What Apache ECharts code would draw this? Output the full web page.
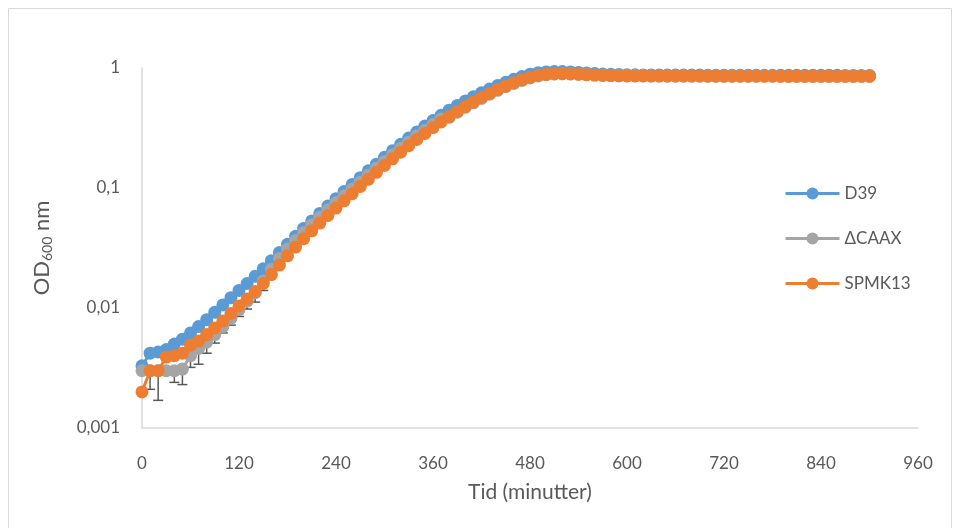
<!DOCTYPE html>
<html>
<head>
<meta charset="utf-8">
<script src="https://cdn.jsdelivr.net/npm/echarts@6/dist/echarts.min.js"></script>
<style>
  html, body { margin: 0; padding: 0; background: #fff; }
  #main { width: 960px; height: 528px; }
</style>
</head>
<body>
<div id="main"></div>
<script>
// time points (minutes)
var times = [
  0, 10, 20, 30, 40, 50, 60, 70, 80, 90,
  100, 110, 120, 130, 140, 150, 160, 170, 180, 190,
  200, 210, 220, 230, 240, 250, 260, 270, 280, 290,
  300, 310, 320, 330, 340, 350, 360, 370, 380, 390,
  400, 410, 420, 430, 440, 450, 460, 470, 480, 490,
  500, 510, 520, 530, 540, 550, 560, 570, 580, 590,
  600, 610, 620, 630, 640, 650, 660, 670, 680, 690,
  700, 710, 720, 730, 740, 750, 760, 770, 780, 790,
  800, 810, 820, 830, 840, 850, 860, 870, 880, 890,
  900
];

var d39 = [
  0.0033, 0.0042, 0.0043, 0.0045, 0.0050, 0.0055, 0.0062, 0.0070, 0.0080, 0.0092,
  0.0106, 0.0122, 0.0140, 0.0160, 0.0184, 0.0212, 0.0248, 0.0290, 0.0340, 0.0396,
  0.0460, 0.0532, 0.0614, 0.0708, 0.0815, 0.0935, 0.107, 0.122, 0.139, 0.158,
  0.180, 0.204, 0.231, 0.261, 0.293, 0.328, 0.365, 0.404, 0.445, 0.487,
  0.531, 0.576, 0.622, 0.668, 0.714, 0.760, 0.805, 0.848, 0.885, 0.912,
  0.928, 0.934, 0.933, 0.927, 0.918, 0.908, 0.899, 0.891, 0.885, 0.881,
  0.878, 0.877, 0.876, 0.875, 0.875, 0.874, 0.874, 0.873, 0.873, 0.873,
  0.872, 0.872, 0.872, 0.871, 0.871, 0.871, 0.871, 0.870, 0.870, 0.870,
  0.870, 0.870, 0.869, 0.869, 0.869, 0.869, 0.869, 0.868, 0.868, 0.868,
  0.868
];

var caax = [
  0.0030, 0.0030, 0.0030, 0.0030, 0.0030, 0.0031, 0.0040, 0.0046, 0.0052, 0.0060,
  0.0070, 0.0082, 0.0097, 0.0114, 0.0134, 0.0168, 0.0210, 0.0258, 0.0310, 0.0365,
  0.0425, 0.0494, 0.0570, 0.0658, 0.0757, 0.0860, 0.0980, 0.112, 0.128, 0.146,
  0.166, 0.189, 0.214, 0.241, 0.271, 0.303, 0.338, 0.375, 0.388, 0.428,
  0.470, 0.513, 0.558, 0.604, 0.651, 0.698, 0.744, 0.787, 0.826, 0.858,
  0.880, 0.892, 0.896, 0.894, 0.889, 0.882, 0.875, 0.870, 0.866, 0.863,
  0.861, 0.860, 0.860, 0.859, 0.859, 0.859, 0.858, 0.858, 0.858, 0.858,
  0.857, 0.857, 0.857, 0.857, 0.856, 0.856, 0.856, 0.856, 0.856, 0.855,
  0.855, 0.855, 0.855, 0.855, 0.855, 0.854, 0.854, 0.854, 0.854, 0.854,
  0.854
];

var spmk13 = [
  0.0020, 0.0030, 0.0030, 0.0039, 0.0040, 0.0042, 0.0049, 0.0053, 0.0060, 0.0068,
  0.0078, 0.0090, 0.0104, 0.0119, 0.0137, 0.0160, 0.0190, 0.0228, 0.0272, 0.0322,
  0.0378, 0.0440, 0.0510, 0.0590, 0.0680, 0.0782, 0.0897, 0.103, 0.118, 0.135,
  0.154, 0.175, 0.199, 0.225, 0.254, 0.285, 0.319, 0.355, 0.394, 0.435,
  0.478, 0.522, 0.568, 0.615, 0.662, 0.709, 0.754, 0.797, 0.836, 0.866,
  0.885, 0.894, 0.896, 0.893, 0.887, 0.880, 0.873, 0.868, 0.864, 0.861,
  0.859, 0.858, 0.858, 0.857, 0.857, 0.857, 0.856, 0.856, 0.856, 0.856,
  0.855, 0.855, 0.855, 0.855, 0.854, 0.854, 0.854, 0.854, 0.854, 0.853,
  0.853, 0.853, 0.853, 0.853, 0.853, 0.852, 0.852, 0.852, 0.852, 0.852,
  0.852
];

// lower end of the error bars (early part, where they show)
var errTimes = [10, 20, 40, 50, 60, 70, 80, 90, 100, 110, 120, 130, 140, 150, 160, 170, 180, 190];
var errLow = [0.0021, 0.0017, 0.0024, 0.0023, 0.0032, 0.0034, 0.0042, 0.0051, 0.0062, 0.0072,
  0.0085, 0.0098, 0.0112, 0.0140, 0.0180, 0.0225, 0.0275, 0.0330];

var yTicks = ['0,001', '0,01', '0,1', '1'];

function pairs(vals) {
  return times.map(function (t, i) { return [t, vals[i]]; });
}

var errData = errTimes.map(function (t, i) {
  return [t, caax[times.indexOf(t)], errLow[i]];
});

var chart = echarts.init(document.getElementById('main'));
var textColor = '#595959';

var option = {
  animation: false,
  backgroundColor: '#fff',
  graphic: [{
    type: 'rect',
    shape: { x: 8.5, y: 8.5, width: 943, height: 530 },
    style: { fill: 'none', stroke: '#d9d9d9', lineWidth: 1 },
    silent: true
  }],
  grid: { left: 142, right: 42, top: 68, bottom: 100 },
  legend: {
    orient: 'vertical',
    left: 779,
    top: 180,
    itemWidth: 54,
    itemHeight: 15,
    itemGap: 28,
    lineStyle: { width: 3 },
    textStyle: { color: textColor, fontSize: 17, fontFamily: 'Lato' },
    data: ['D39', 'ΔCAAX', 'SPMK13']
  },
  xAxis: {
    type: 'value',
    min: 0,
    max: 960,
    interval: 120,
    name: 'Tid (minutter)',
    nameLocation: 'middle',
    nameGap: 54,
    nameTextStyle: { color: textColor, fontSize: 21, fontFamily: 'Lato' },
    axisLine: { lineStyle: { color: '#d9d9d9', width: 1.5 } },
    axisTick: { show: false },
    splitLine: { show: false },
    axisLabel: { color: textColor, fontSize: 17, margin: 27, fontFamily: 'Lato' }
  },
  yAxis: {
    type: 'log',
    logBase: 10,
    min: 0.001,
    max: 1,
    name: 'OD{sub|600} nm',
    nameLocation: 'middle',
    nameRotate: 90,
    nameGap: 88,
    nameTextStyle: {
      color: textColor, fontSize: 22, fontFamily: 'Lato',
      rich: { sub: { fontSize: 14, verticalAlign: 'bottom', color: textColor, fontFamily: 'Lato', padding: [10, 0, 0, 0] } }
    },
    axisLine: { show: true, lineStyle: { color: '#d9d9d9', width: 1.5 } },
    axisTick: { show: false },
    splitLine: { show: false },
    axisLabel: {
      color: textColor, fontSize: 17, margin: 22, fontFamily: 'Lato',
      formatter: function (v) {
        var idx = Math.round(Math.log10(v)) + 3;
        return yTicks[idx];
      }
    }
  },
  series: [
    {
      name: 'D39', type: 'line', data: pairs(d39),
      symbol: 'circle', symbolSize: 13,
      itemStyle: { color: '#5b9bd5' },
      lineStyle: { color: '#5b9bd5', width: 3 }
    },
    {
      name: 'ΔCAAX', type: 'line', data: pairs(caax),
      symbol: 'circle', symbolSize: 13,
      itemStyle: { color: '#a5a5a5' },
      lineStyle: { color: '#a5a5a5', width: 3 }
    },
    {
      type: 'custom',
      name: 'err',
      data: errData,
      renderItem: function (params, api) {
        var top = api.coord([api.value(0), api.value(1)]);
        var bot = api.coord([api.value(0), api.value(2)]);
        var style = { stroke: '#595959', lineWidth: 1.5 };
        return {
          type: 'group',
          children: [
            { type: 'line', shape: { x1: top[0], y1: top[1], x2: bot[0], y2: bot[1] }, style: style },
            { type: 'line', shape: { x1: bot[0] - 5, y1: bot[1], x2: bot[0] + 5, y2: bot[1] }, style: style }
          ]
        };
      }
    },
    {
      name: 'SPMK13', type: 'line', data: pairs(spmk13),
      symbol: 'circle', symbolSize: 13,
      itemStyle: { color: '#ed7d31' },
      lineStyle: { color: '#ed7d31', width: 3 }
    }
  ]
};

chart.setOption(option);
</script>
</body>
</html>
